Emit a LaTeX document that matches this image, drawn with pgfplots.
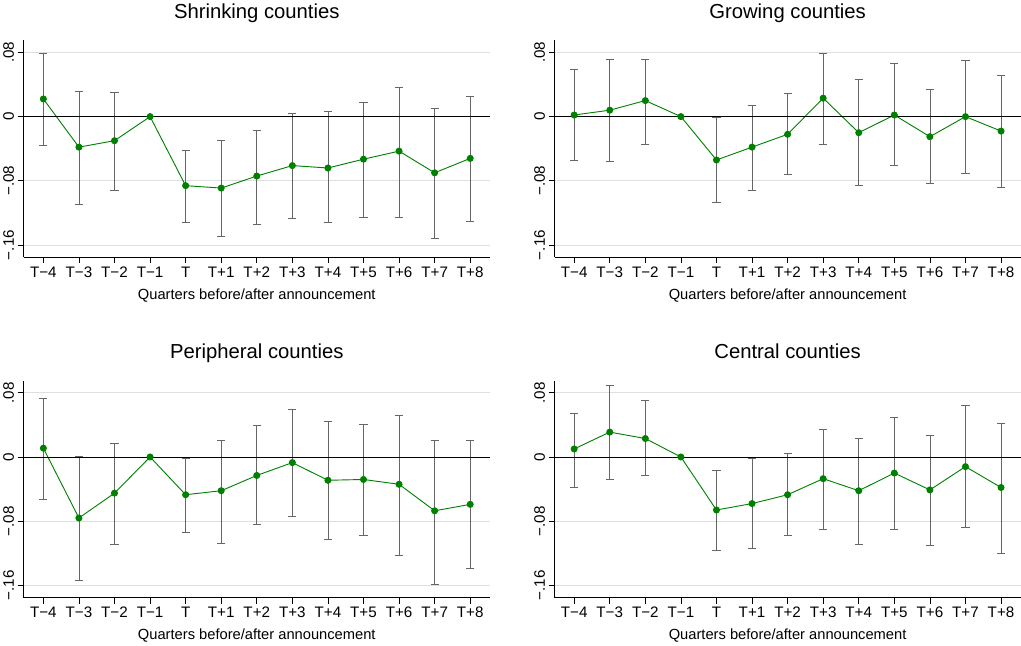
\documentclass[border=0pt]{standalone}
\usepackage{pgfplots}
\pgfplotsset{compat=1.18}
\usepackage{pgfplotstable}
\usepgfplotslibrary{groupplots}
\usepackage{fontspec}
\setmainfont{Liberation Sans}
\definecolor{sgreen}{RGB}{0,128,0}
\pgfplotstableread{
x y hi lo
0 0.022 0.079 -0.036
1 -0.038 0.032 -0.109
2 -0.030 0.031 -0.092
3 0 0 0
4 -0.086 -0.042 -0.131
5 -0.089 -0.029 -0.149
6 -0.074 -0.017 -0.134
7 -0.061 0.004 -0.127
8 -0.064 0.007 -0.132
9 -0.053 0.018 -0.125
10 -0.043 0.037 -0.125
11 -0.070 0.011 -0.151
12 -0.052 0.025 -0.130
}\shrink
\pgfplotstableread{
x y hi lo
0 0.002 0.059 -0.054
1 0.008 0.072 -0.055
2 0.020 0.072 -0.034
3 0 0 0
4 -0.054 -0.001 -0.106
5 -0.038 0.014 -0.092
6 -0.022 0.029 -0.072
7 0.023 0.079 -0.034
8 -0.020 0.046 -0.085
9 0.002 0.066 -0.061
10 -0.025 0.034 -0.083
11 0 0.070 -0.071
12 -0.018 0.052 -0.088
}\grow
\pgfplotstableread{
x y hi lo
0 0.011 0.073 -0.053
1 -0.076 0.001 -0.153
2 -0.045 0.017 -0.108
3 0 0 0
4 -0.047 -0.001 -0.094
5 -0.042 0.021 -0.107
6 -0.023 0.039 -0.084
7 -0.007 0.059 -0.074
8 -0.029 0.044 -0.103
9 -0.028 0.041 -0.097
10 -0.034 0.052 -0.122
11 -0.067 0.021 -0.158
12 -0.059 0.021 -0.139
}\periph
\pgfplotstableread{
x y hi lo
0 0.010 0.055 -0.038
1 0.031 0.089 -0.028
2 0.023 0.071 -0.023
3 0 0 0
4 -0.066 -0.017 -0.116
5 -0.058 -0.002 -0.114
6 -0.047 0.005 -0.098
7 -0.027 0.034 -0.090
8 -0.042 0.023 -0.108
9 -0.020 0.050 -0.090
10 -0.041 0.027 -0.110
11 -0.012 0.065 -0.087
12 -0.038 0.042 -0.120
}\central
\newcommand\panel[1]{%
 \addplot[gray!80!black, line width=0.7pt, draw=none, forget plot,
   error bars/.cd, y dir=both, y explicit, error bar style={gray!80!black,line width=0.7pt},
   error mark options={rotate=90,mark size=4pt,gray!80!black}]
   table[x=x,y=y,y error plus expr=\thisrow{hi}-\thisrow{y},y error minus expr=\thisrow{y}-\thisrow{lo}]{#1};
 \addplot[sgreen, line width=0.9pt, mark=*, mark size=3pt] table[x=x,y=y]{#1};
 \draw[black, line width=0.8pt] (axis cs:-0.55,0) -- (axis cs:12.55,0);
}
\begin{document}
\begin{tikzpicture}
\begin{groupplot}[group style={group size=2 by 2, horizontal sep=64pt, vertical sep=122pt},
 scale only axis, width=460pt, height=214pt,
 xmin=-0.55, xmax=12.55, ymin=-0.175, ymax=0.095,
 axis x line=bottom, axis y line=left, axis line style={-, line width=0.7pt},
 tick style={black, line width=0.7pt}, tick align=outside, major tick length=6pt,
 xtick={0,...,12},
 xticklabels={T−4,T−3,T−2,T−1,T,T+1,T+2,T+3,T+4,T+5,T+6,T+7,T+8},
 ytick={-0.16,-0.08,0,0.08}, yticklabels={−.16,−.08,0,.08},
 yticklabel style={rotate=90, anchor=south}, ytick pos=left, xtick pos=bottom,
 ymajorgrids, grid style={gray!25, line width=0.7pt},
 tick label style={font=\fontsize{15}{17}\selectfont},
 xlabel={Quarters before/after announcement},
 xlabel style={font=\fontsize{14.5}{16}\selectfont, yshift=-4pt},
 title style={font=\fontsize{20}{22}\selectfont, at={(0.5,1)}, anchor=base, yshift=16pt},
 clip=false]
\nextgroupplot[title={Shrinking counties}] \panel{\shrink}
\nextgroupplot[title={Growing counties}] \panel{\grow}
\nextgroupplot[title={Peripheral counties}] \panel{\periph}
\nextgroupplot[title={Central counties}] \panel{\central}
\end{groupplot}
\end{tikzpicture}
\end{document}
